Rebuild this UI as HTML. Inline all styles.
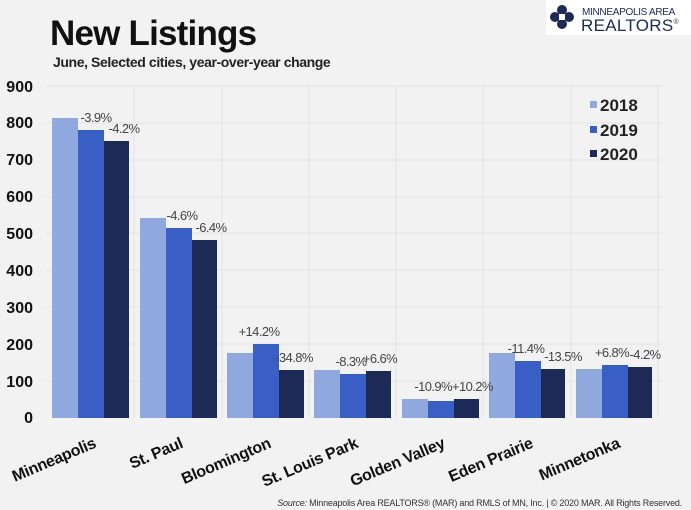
<!DOCTYPE html>
<html><head><meta charset="utf-8"><style>
body{margin:0;background:#f2f2f2;}
svg{display:block;font-family:"Liberation Sans",Arial,sans-serif;}
</style></head><body>
<svg width="691" height="510" viewBox="0 0 691 510" xmlns="http://www.w3.org/2000/svg">
<rect width="691" height="510" fill="#f2f2f2"/>
<text x="50" y="45" font-size="35" font-weight="bold" fill="#111" letter-spacing="-0.8">New Listings</text>
<text x="53" y="67" font-size="14" font-weight="bold" fill="#222" letter-spacing="-0.4">June, Selected cities, year-over-year change</text>
<!-- logo -->
<rect x="546" y="0" width="145" height="35" fill="#fff"/>
<g transform="translate(562,17)" fill="#1c2a55">
<circle cx="0" cy="-7" r="5"/><circle cx="0" cy="7" r="5"/><circle cx="-7" cy="0" r="5"/><circle cx="7" cy="0" r="5"/>
<rect x="-3" y="-3" width="6" height="6" fill="#fff"/>
</g>
<text x="582" y="15" font-size="10" fill="#1c2a55" letter-spacing="-0.3">MINNEAPOLIS AREA</text>
<text x="581" y="31" font-size="17" fill="#1c2a55" letter-spacing="0.3">REALTORS<tspan font-size="7" dy="-7">®</tspan></text>
<!-- grid -->
<g stroke="#e2e2e2" stroke-width="1">
<line x1="46" x2="662" y1="86" y2="86"/><line x1="46" x2="662" y1="123" y2="123"/><line x1="46" x2="662" y1="160" y2="160"/><line x1="46" x2="662" y1="197" y2="197"/><line x1="46" x2="662" y1="233" y2="233"/><line x1="46" x2="662" y1="270" y2="270"/><line x1="46" x2="662" y1="307" y2="307"/><line x1="46" x2="662" y1="344" y2="344"/><line x1="46" x2="662" y1="381" y2="381"/>
<line x1="134" x2="134" y1="86" y2="418"/><line x1="222" x2="222" y1="86" y2="418"/><line x1="309" x2="309" y1="86" y2="418"/><line x1="396" x2="396" y1="86" y2="418"/><line x1="483" x2="483" y1="86" y2="418"/><line x1="571" x2="571" y1="86" y2="418"/><line x1="658" x2="658" y1="86" y2="418"/>
</g>
<!-- y labels -->
<g font-size="16" font-weight="bold" fill="#111" text-anchor="end">
<text x="33" y="92">900</text><text x="33" y="128">800</text><text x="33" y="165">700</text><text x="33" y="202">600</text><text x="33" y="239">500</text><text x="33" y="276">400</text><text x="33" y="313">300</text><text x="33" y="350">200</text><text x="33" y="387">100</text><text x="33" y="423">0</text>
</g>
<!-- bars -->
<g>
<rect x="52" y="118" width="26" height="300" fill="#8fa8de"/><rect x="78" y="130" width="26" height="288" fill="#3a5fc4"/><rect x="104" y="141" width="25" height="277" fill="#1c2a55"/>
<rect x="140" y="218" width="26" height="200" fill="#8fa8de"/><rect x="166" y="228" width="26" height="190" fill="#3a5fc4"/><rect x="192" y="240" width="25" height="178" fill="#1c2a55"/>
<rect x="227" y="353" width="26" height="65" fill="#8fa8de"/><rect x="253" y="344" width="26" height="74" fill="#3a5fc4"/><rect x="279" y="370" width="25" height="48" fill="#1c2a55"/>
<rect x="314" y="370" width="26" height="48" fill="#8fa8de"/><rect x="340" y="374" width="26" height="44" fill="#3a5fc4"/><rect x="366" y="371" width="25" height="47" fill="#1c2a55"/>
<rect x="402" y="399" width="26" height="19" fill="#8fa8de"/><rect x="428" y="401" width="26" height="17" fill="#3a5fc4"/><rect x="454" y="399" width="25" height="19" fill="#1c2a55"/>
<rect x="489" y="353" width="26" height="65" fill="#8fa8de"/><rect x="515" y="361" width="26" height="57" fill="#3a5fc4"/><rect x="541" y="369" width="24" height="49" fill="#1c2a55"/>
<rect x="576" y="369" width="26" height="49" fill="#8fa8de"/><rect x="602" y="365" width="26" height="53" fill="#3a5fc4"/><rect x="628" y="367" width="24" height="51" fill="#1c2a55"/>
</g>
<!-- value labels -->
<g font-size="13" fill="#444" letter-spacing="-0.6" text-anchor="middle">
<text x="96" y="122">-3.9%</text><text x="124" y="133">-4.2%</text>
<text x="182" y="220">-4.6%</text><text x="211" y="232">-6.4%</text>
<text x="259" y="336">+14.2%</text><text x="294" y="362">-34.8%</text>
<text x="351" y="366">-8.3%</text><text x="380" y="363">+6.6%</text>
<text x="452" y="391" text-anchor="end">-10.9%</text><text x="452" y="391" text-anchor="start">+10.2%</text>
<text x="526" y="353">-11.4%</text><text x="563" y="361">-13.5%</text>
<text x="612" y="357">+6.8%</text><text x="645" y="359">-4.2%</text>
</g>
<!-- legend -->
<g font-size="17" font-weight="bold" fill="#222">
<rect x="590" y="101" width="7" height="7" fill="#8fa8de"/><text x="600" y="111">2018</text>
<rect x="590" y="126" width="7" height="7" fill="#3a5fc4"/><text x="600" y="136">2019</text>
<rect x="590" y="150" width="7" height="7" fill="#1c2a55"/><text x="600" y="160">2020</text>
</g>
<!-- x labels -->
<g font-size="16" font-weight="bold" fill="#111" text-anchor="end" letter-spacing="-0.3">
<text transform="translate(97,447) rotate(-23)">Minneapolis</text>
<text transform="translate(184,447) rotate(-23)">St. Paul</text>
<text transform="translate(272,447) rotate(-23)">Bloomington</text>
<text transform="translate(359,447) rotate(-23)">St. Louis Park</text>
<text transform="translate(446,447) rotate(-23)">Golden Valley</text>
<text transform="translate(534,447) rotate(-23)">Eden Prairie</text>
<text transform="translate(621,447) rotate(-23)">Minnetonka</text>
</g>
<text x="682" y="506" font-size="9" fill="#333" text-anchor="end" letter-spacing="-0.2"><tspan font-style="italic">Source:</tspan>   Minneapolis Area REALTORS® (MAR) and RMLS of MN, Inc.  |  © 2020 MAR. All Rights Reserved.</text>
</svg>
</body></html>
